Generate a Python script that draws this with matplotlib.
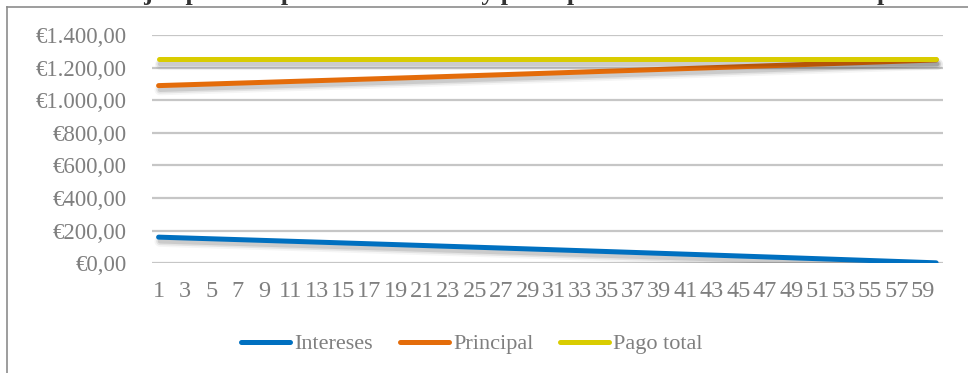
import matplotlib
matplotlib.use("Agg")
import matplotlib.pyplot as plt
import matplotlib.patheffects as pe
from matplotlib.lines import Line2D

# Monthly schedule of a 60-month loan
periods = list(range(1, 61))
intereses = [160.39, 157.89, 155.39, 152.88, 150.37, 147.85, 145.33, 142.80, 140.26, 137.72,
             135.17, 132.62, 130.06, 127.49, 124.92, 122.34, 119.76, 117.17, 114.57, 111.97,
             109.36, 106.75, 104.13, 101.50, 98.87, 96.23, 93.59, 90.94, 88.28, 85.62,
             82.95, 80.28, 77.60, 74.91, 72.22, 69.52, 66.81, 64.10, 61.38, 58.66,
             55.93, 53.19, 50.45, 47.70, 44.95, 42.19, 39.42, 36.65, 33.87, 31.08,
             28.29, 25.49, 22.68, 19.87, 17.05, 14.22, 11.39, 8.55, 5.71, 2.86]
principal = [1089.61, 1092.11, 1094.61, 1097.12, 1099.63, 1102.15, 1104.67, 1107.20, 1109.74, 1112.28,
             1114.83, 1117.38, 1119.94, 1122.51, 1125.08, 1127.66, 1130.24, 1132.83, 1135.43, 1138.03,
             1140.64, 1143.25, 1145.87, 1148.50, 1151.13, 1153.77, 1156.41, 1159.06, 1161.72, 1164.38,
             1167.05, 1169.72, 1172.40, 1175.09, 1177.78, 1180.48, 1183.19, 1185.90, 1188.62, 1191.34,
             1194.07, 1196.81, 1199.55, 1202.30, 1205.05, 1207.81, 1210.58, 1213.35, 1216.13, 1218.92,
             1221.71, 1224.51, 1227.32, 1230.13, 1232.95, 1235.78, 1238.61, 1241.45, 1244.29, 1247.14]
pago_total = [1250.00] * 60

series_names = ["Intereses", "Principal", "Pago total"]
series_colors = ["#0070c0", "#e46c0a", "#d9cc00"]

y_ticks = [0, 200, 400, 600, 800, 1000, 1200, 1400]
y_tick_labels = ["€0,00", "€200,00", "€400,00", "€600,00", "€800,00",
                 "€1.000,00", "€1.200,00", "€1.400,00"]
x_tick_positions = list(range(1, 61, 2))
x_tick_labels = [str(p) for p in x_tick_positions]

title = "Gráfico 1. Ejemplo de reparto de intereses y principal durante toda la vida del préstamo"

plt.rcParams["font.family"] = ["Liberation Serif", "DejaVu Serif"]
text_color = "#7f7f7f"

W, H = 968, 373
fig = plt.figure(figsize=(W / 100, H / 100), dpi=100)
fig.patch.set_facecolor("white")

# plot area in pixel terms
left_px, right_px, top_px, bottom_px = 152, 942.7, 35, 263.3
ax = fig.add_axes([left_px / W, 1 - bottom_px / H,
                   (right_px - left_px) / W, (bottom_px - top_px) / H])
ax.set_facecolor("none")

# soft drop shadow under each series line
shadow = [pe.SimpleLineShadow(offset=(1, -3), shadow_color="k", alpha=0.04, linewidth=8),
          pe.SimpleLineShadow(offset=(1, -3), shadow_color="k", alpha=0.07, linewidth=5.5),
          pe.SimpleLineShadow(offset=(1, -3), shadow_color="k", alpha=0.10, linewidth=3.2),
          pe.Normal()]

for vals, col in zip([intereses, principal, pago_total], series_colors):
    ax.plot(periods, vals, color=col, lw=3.6, solid_capstyle="round",
            path_effects=shadow, zorder=3)

ax.set_xlim(0.5, 60.5)
ax.set_ylim(0, 1400)
ax.set_yticks(y_ticks)
ax.set_yticklabels(y_tick_labels)
ax.set_xticks(x_tick_positions)
ax.set_xticklabels(x_tick_labels)
ax.grid(axis="y", color="#c6c6c6", lw=1.6, zorder=0)
ax.set_axisbelow(True)
for s in ax.spines.values():
    s.set_visible(False)
ax.tick_params(axis="both", length=0, labelcolor=text_color)
ax.tick_params(axis="y", pad=18, labelsize=16.5)
ax.tick_params(axis="x", pad=13, labelsize=17.5)

handles = [Line2D([], [], color=c, lw=3.6, solid_capstyle="round") for c in series_colors]
leg = fig.legend(handles, series_names, loc="center", bbox_to_anchor=(472 / W, 1 - 344 / H),
                 ncol=3, frameon=False, fontsize=16, handlelength=2.2,
                 handletextpad=0.2, columnspacing=1.2, borderaxespad=0)
for t in leg.get_texts():
    t.set_color(text_color)

# chart border (left and top edges visible)
fig.add_artist(Line2D([7 / W, 7 / W], [0, 1 - 6.5 / H], transform=fig.transFigure,
                      color="#8c8c8c", lw=1.2))
fig.add_artist(Line2D([7 / W, 1], [1 - 6.5 / H, 1 - 6.5 / H], transform=fig.transFigure,
                      color="#8c8c8c", lw=1.2))

fig.text(10 / W, 1 + 0.5 / H, title, fontsize=18.5, fontweight="bold",
         color="#333333", ha="left", va="baseline")

fig.savefig("out.png", dpi=100, facecolor="white")
